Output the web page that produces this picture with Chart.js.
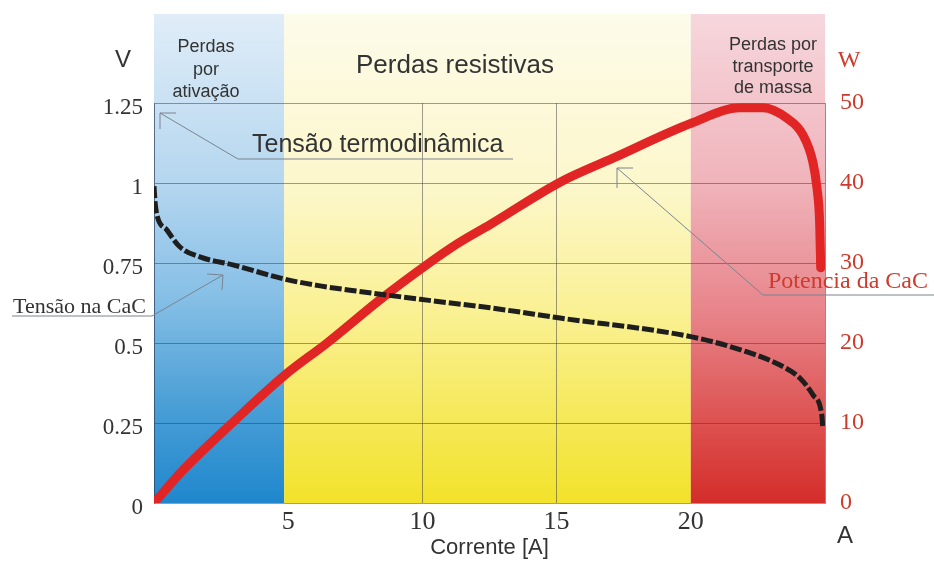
<!DOCTYPE html>
<html>
<head>
<meta charset="utf-8">
<script src="https://cdn.jsdelivr.net/npm/chart.js@4.4.1/dist/chart.umd.min.js"></script>
<style>
  html, body { margin: 0; padding: 0; background: #ffffff; }
  #wrap { width: 934px; height: 563px; }
</style>
</head>
<body>
<div id="wrap"><canvas id="c" width="934" height="563"></canvas></div>
<script>
// Polarisation curve of the fuel cell (CaC): current [A] vs cell voltage [V]
const currentV = [0, 0.04, 0.11, 0.48, 0.97, 1.71, 2.94, 4.85, 6.07, 7.3, 10.17, 12.52, 15.13, 20.04, 22.1, 23.32, 24.07, 24.55, 24.88, 24.92];
const voltage  = [0.99, 0.94, 0.90, 0.853, 0.80, 0.769, 0.744, 0.70, 0.68, 0.665, 0.634, 0.61, 0.578, 0.519, 0.472, 0.431, 0.39, 0.338, 0.275, 0.234];

// Power delivered by the cell: current [A] vs power [W]
const currentP = [0, 1.08, 2.91, 4.88, 6.45, 8.53, 10.17, 11.3, 12.52, 15.13, 17.1, 20.04, 21.83, 22.69, 23.58, 24.18, 24.55, 24.7, 24.8, 24.84];
const power    = [0, 4.1, 10, 16, 20, 25.7, 29.8, 32.4, 34.8, 40.1, 43.1, 47.5, 49.4, 49.4, 48.1, 46, 42.6, 39.4, 35.1, 29.4];

// Axis ticks
const xTickValues = [5, 10, 15, 20];
const vTickLabels = ['0', '0.25', '0.5', '0.75', '1', '1.25'];
const wTickLabels = ['0', '10', '20', '30', '40', '50'];

// Loss regions along the current axis
const regionEdges  = [0, 4.85, 20, 25];
const regionTitles = [['Perdas', 'por', 'ativação'], ['Perdas resistivas'], ['Perdas por', 'transporte', 'de massa']];

const SANS = "'Liberation Sans', Arial, sans-serif";
const SERIF = "'Liberation Serif', 'Times New Roman', serif";
const TEXT = '#333333';
const RED_TEXT = '#cc3b2c';
const LEADER = '#7a848e';

const regionGradients = [
  [[0, '#e0edf8'], [0.35, '#b4d6ef'], [0.58, '#86bfe6'], [0.8, '#4a9fd6'], [1, '#1f87cd']],
  [[0, '#fdfbea'], [0.35, '#fcf7cb'], [0.6, '#faf196'], [1, '#f2e22a']],
  [[0, '#f6d7dd'], [0.35, '#f0b3ba'], [0.6, '#e8868c'], [0.85, '#dc4e4c'], [1, '#d42d2a']]
];

// Coloured loss regions painted behind the grid
const backdrop = {
  id: 'backdrop',
  beforeDraw(chart) {
    const { ctx, chartArea, scales: { x } } = chart;
    const top = 14, bottom = chartArea.bottom;
    ctx.save();
    for (let i = 0; i < 3; i++) {
      const x0 = x.getPixelForValue(regionEdges[i]);
      const x1 = x.getPixelForValue(regionEdges[i + 1]);
      const g = ctx.createLinearGradient(0, top, 0, bottom);
      regionGradients[i].forEach(([t, c]) => g.addColorStop(t, c));
      ctx.fillStyle = g;
      ctx.fillRect(x0, top, x1 - x0, bottom - top);
    }
    ctx.restore();
  }
};

function polyline(ctx, pts) {
  ctx.beginPath();
  ctx.moveTo(pts[0][0], pts[0][1]);
  for (let i = 1; i < pts.length; i++) ctx.lineTo(pts[i][0], pts[i][1]);
  ctx.stroke();
}

// Region titles, units and callouts drawn over the plot
const callouts = {
  id: 'callouts',
  afterDraw(chart) {
    const { ctx } = chart;
    ctx.save();
    ctx.textBaseline = 'alphabetic';

    // region titles
    ctx.fillStyle = TEXT;
    ctx.textAlign = 'center';
    ctx.font = `18px ${SANS}`;
    [52, 74.5, 97].forEach((y, i) => ctx.fillText(regionTitles[0][i], 206, y));
    ctx.font = `26px ${SANS}`;
    ctx.fillText(regionTitles[1][0], 455, 73);
    ctx.font = `18px ${SANS}`;
    [50, 72, 93].forEach((y, i) => ctx.fillText(regionTitles[2][i], 773, y));

    // axis units
    ctx.font = `24px ${SANS}`;
    ctx.fillText('V', 123, 67);
    ctx.fillText('A', 845, 543);
    ctx.fillStyle = RED_TEXT;
    ctx.font = `24px ${SERIF}`;
    ctx.fillText('W', 849, 67);

    // leader lines with open corner arrowheads
    ctx.strokeStyle = LEADER;
    ctx.lineWidth = 1;
    polyline(ctx, [[513, 159], [238, 159], [160, 113]]);
    polyline(ctx, [[176, 113], [160, 113], [160, 129]]);

    polyline(ctx, [[12, 316], [152, 316], [223, 275]]);
    polyline(ctx, [[207, 274], [223, 275], [222, 290]]);

    polyline(ctx, [[934, 295], [763, 295], [617, 168]]);
    polyline(ctx, [[633, 168], [617, 168], [617, 188]]);

    // callout texts
    ctx.textAlign = 'left';
    ctx.fillStyle = TEXT;
    ctx.font = `25px ${SANS}`;
    ctx.fillText('Tensão termodinâmica', 252, 152);
    ctx.font = `22px ${SERIF}`;
    ctx.fillText('Tensão na CaC', 13, 313);
    ctx.fillStyle = RED_TEXT;
    ctx.font = `24px ${SERIF}`;
    ctx.fillText('Potencia da CaC', 768, 288);
    ctx.restore();
  }
};

const voltagePoints = currentV.map((a, i) => ({ x: a, y: voltage[i] }));
const powerPoints = currentP.map((a, i) => ({ x: a, y: power[i] }));

new Chart(document.getElementById('c'), {
  type: 'line',
  data: {
    datasets: [
      {
        label: 'Tensão na CaC',
        data: voltagePoints,
        yAxisID: 'y',
        borderColor: '#1e1e1e',
        borderWidth: 5,
        borderDash: [12, 3],
        pointRadius: 0,
        cubicInterpolationMode: 'monotone',
        fill: false
      },
      {
        label: 'Potencia da CaC',
        data: powerPoints,
        yAxisID: 'y1',
        borderColor: '#e12424',
        borderWidth: 9,
        borderCapStyle: 'round',
        borderJoinStyle: 'round',
        pointRadius: 0,
        cubicInterpolationMode: 'monotone',
        fill: false
      }
    ]
  },
  options: {
    responsive: false,
    devicePixelRatio: 1,
    animation: false,
    layout: { padding: { top: 103, left: 0, right: 0, bottom: 0 } },
    plugins: {
      legend: { display: false },
      tooltip: { enabled: false },
      title: { display: false }
    },
    scales: {
      x: {
        type: 'linear',
        min: 0,
        max: 25,
        afterFit(scale) { scale.height = 60; },
        afterBuildTicks(scale) {
          scale.ticks = [0, ...xTickValues, 25].map(v => ({ value: v }));
        },
        border: { display: false },
        grid: {
          drawTicks: false,
          color: ctx => (ctx.tick && (ctx.tick.value === 10 || ctx.tick.value === 15)) ? 'rgba(60,60,60,0.5)' : 'rgba(0,0,0,0)',
          lineWidth: 1
        },
        ticks: {
          padding: 4,
          maxRotation: 0,
          autoSkip: false,
          color: TEXT,
          font: { family: SERIF, size: 26 },
          callback: v => xTickValues.includes(v) ? String(v) : ''
        },
        title: {
          display: true,
          text: 'Corrente [A]',
          color: TEXT,
          font: { family: SANS, size: 22 },
          padding: { top: 0, bottom: 2 }
        }
      },
      y: {
        type: 'linear',
        position: 'left',
        min: 0,
        max: 1.25,
        afterFit(scale) { scale.width = 154; },
        afterBuildTicks(scale) {
          scale.ticks = vTickLabels.map(s => ({ value: parseFloat(s) }));
        },
        border: { display: true, color: 'rgba(40,60,90,0.7)', width: 1 },
        grid: { drawTicks: false, color: 'rgba(60,60,60,0.5)', lineWidth: 1 },
        ticks: {
          padding: 11,
          labelOffset: 5,
          color: TEXT,
          font: { family: SERIF, size: 23 },
          callback: (v, i) => vTickLabels[i]
        }
      },
      y1: {
        type: 'linear',
        position: 'right',
        min: 0,
        max: 50,
        afterFit(scale) { scale.width = 109; },
        afterBuildTicks(scale) {
          scale.ticks = wTickLabels.map(s => ({ value: parseFloat(s) }));
        },
        border: { display: true, color: 'rgba(90,60,60,0.6)', width: 1 },
        grid: { display: false, drawTicks: false },
        ticks: {
          padding: 15,
          color: RED_TEXT,
          font: { family: SERIF, size: 24 },
          callback: (v, i) => wTickLabels[i]
        }
      }
    }
  },
  plugins: [backdrop, callouts]
});
</script>
</body>
</html>
